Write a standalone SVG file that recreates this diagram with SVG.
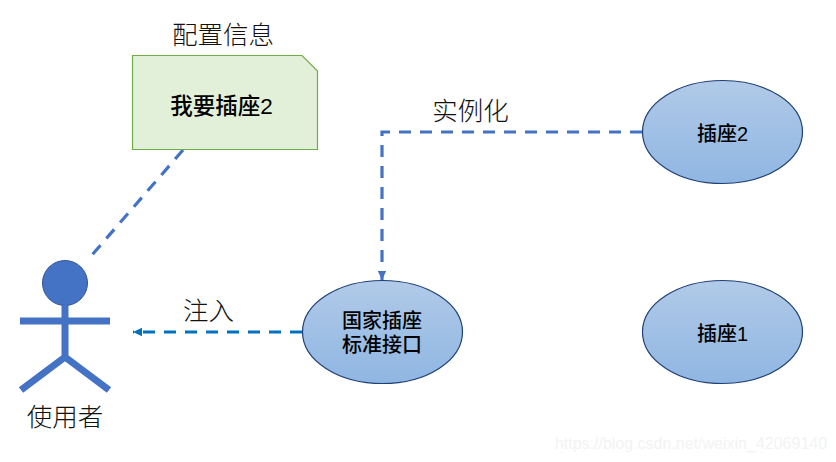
<svg xmlns="http://www.w3.org/2000/svg" width="836" height="462" viewBox="0 0 836 462">
  <style>
    text { font-family: "Liberation Sans", "Noto Sans CJK SC", sans-serif; text-anchor: middle; fill: #000; }
    .cap { font-size: 25.500px; font-weight: 300; fill: #111; }
    .in { font-size: 20px; font-weight: 500; }
    .oval { fill: url(#ovalFill); stroke: #1f3f77; stroke-width: 1.2; }
    .dash { fill: none; stroke: #4472c4; stroke-width: 3.200; stroke-dasharray: 12 9; }
    .limb { fill: none; stroke: #4472c4; stroke-width: 7; }
  </style>
  <defs>
    <linearGradient id="ovalFill" x1="0" y1="0" x2="0" y2="1">
      <stop offset="0" stop-color="#b1cae8"/>
      <stop offset="1" stop-color="#8fb6e2"/>
    </linearGradient>
    <marker id="headBlue" markerUnits="userSpaceOnUse" markerWidth="10" markerHeight="10" refX="9" refY="5" orient="auto">
      <path d="M0,0.8 L9,5 L0,9.2 Z" fill="#4472c4"/>
    </marker>
    <marker id="headTeal" markerUnits="userSpaceOnUse" markerWidth="10" markerHeight="10" refX="9" refY="5" orient="auto">
      <path d="M0,0.8 L9,5 L0,9.2 Z" fill="#0070c0"/>
    </marker>
  </defs>

  <rect width="836" height="462" fill="#fff"/>

  <g id="connectors">
    <path class="dash" d="M183,150 L92,255"/>
    <path class="dash" d="M642,132 H382 V280" marker-end="url(#headBlue)"/>
    <path class="dash" d="M302,332 H133" style="stroke:#0070c0" marker-end="url(#headTeal)"/>
  </g>

  <g id="config-note">
    <path d="M132.500,55.500 H302 L317.500,71 V149.500 H132.500 Z" fill="#e2efd9" stroke="#70ad47" stroke-width="1.2"/>
    <text class="in" x="221.500" y="114" style="font-size:22.500px">我要插座2</text>
    <text class="cap" x="223" y="44">配置信息</text>
  </g>

  <g id="user">
    <circle cx="65" cy="283" r="22.500" fill="#4472c4" stroke="#2f5597" stroke-width="1"/>
    <path class="limb" d="M65,305 V357 M20,321 H110 M21,390 L65,357 L109,390"/>
    <text class="cap" x="65" y="426">使用者</text>
  </g>

  <g id="socket-interface">
    <ellipse class="oval" cx="382.500" cy="332" rx="80" ry="51.500"/>
    <text class="in" x="382" y="328">国家插座</text>
    <text class="in" x="382" y="352">标准接口</text>
  </g>

  <g id="socket-2">
    <ellipse class="oval" cx="722.500" cy="132" rx="80" ry="51.500"/>
    <text class="in" x="722.500" y="141">插座2</text>
  </g>

  <g id="socket-1">
    <ellipse class="oval" cx="722.500" cy="332" rx="80" ry="51.500"/>
    <text class="in" x="722.500" y="341">插座1</text>
  </g>

  <g id="labels">
    <text class="cap" x="470.500" y="120">实例化</text>
    <text class="cap" x="208.500" y="320">注入</text>
  </g>

  <text x="691" y="449" style="font-size:16px;fill:#f3f3f3">https://blog.csdn.net/weixin_42069140</text>
</svg>
